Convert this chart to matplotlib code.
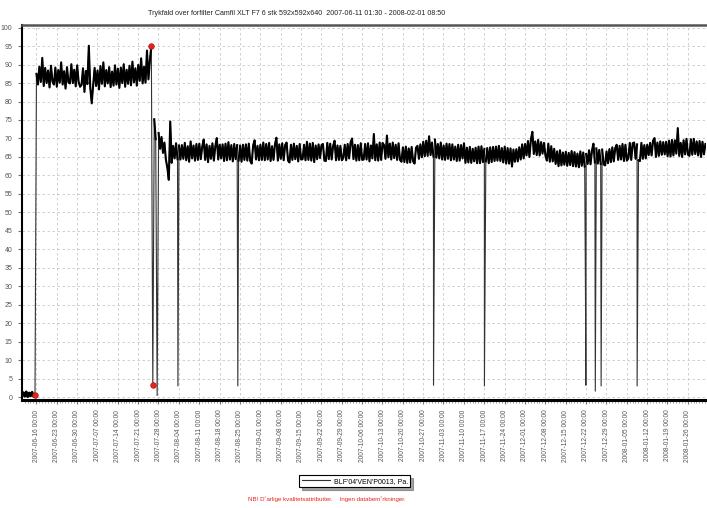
import matplotlib
matplotlib.use("Agg")
import matplotlib.pyplot as plt
import matplotlib.dates as mdates
import pandas as pd

plt.rcParams["font.family"] = ["Liberation Sans", "DejaVu Sans"]

# ---- data (12-hourly readings, Pa) ----
start = "2007-06-11 01:30"
end = "2008-02-01 08:50"

off_vals = [0.3, 1.2, 0.2, 1.4, 0.1, 1.1, 0.3, 1.3, 0.2, 0.5]

high_vals = [
    87.5, 84.6, 89.4, 85.3, 91.8, 84.2, 89.1, 85.0, 88.4, 83.8,
    89.7, 85.4, 84.6, 89.2, 84.0, 88.5, 85.1, 90.6, 84.6, 88.2,
    83.5, 89.3, 85.2, 84.9, 90.1, 85.0, 88.6, 84.1, 89.8, 85.3,
    84.0, 84.5, 89.0, 82.6, 88.3, 84.7, 95.1, 83.8, 79.5, 84.5,
    89.1, 84.2, 88.4, 83.3, 89.6, 84.8, 90.6, 84.1, 88.5, 84.9,
    89.3, 83.9, 88.1, 84.3, 89.8, 84.6, 88.9, 83.7, 89.2, 85.0,
    90.1, 84.0, 88.6, 84.8, 89.7, 84.4, 90.8, 85.2, 89.0, 84.3,
    89.9, 85.6, 91.7, 84.9, 89.4, 85.1, 93.8, 86.0, 91.2, 95.0,
]

trans_vals = [3.3, 75.2, 69.8, 0.4, 71.5]

low_vals = [
    67.2, 70.4, 66.1, 68.9, 64.3, 62.1, 58.8, 74.6, 63.4, 68.0, 64.6, 68.7, 64.4, 68.1,
    64.3, 68.2, 64.5, 68.8, 64.1, 67.9, 63.7, 69.2, 64.6, 68.1, 64.0, 68.5, 64.2, 68.6,
    64.4, 67.8, 69.7, 64.2, 68.4, 63.6, 68.0, 64.5, 68.7, 64.0, 67.9, 70.1, 64.3, 68.3,
    64.6, 68.4, 63.9, 68.6, 64.1, 69.0, 64.3, 68.2, 63.8, 68.5, 64.4, 68.2, 64.0, 68.1,
    63.7, 68.3, 64.2, 68.4, 64.0, 68.6, 63.9, 63.2, 68.1, 69.5, 64.3, 68.0, 64.1, 68.3,
    64.2, 68.9, 64.1, 68.5, 64.3, 68.8, 63.9, 67.9, 64.2, 68.4, 70.2, 64.0, 68.4, 64.5,
    68.7, 64.1, 68.2, 68.9, 64.0, 63.5, 68.3, 64.2, 68.6, 64.4, 68.0, 63.8, 68.5, 64.3,
    64.4, 68.3, 64.1, 69.1, 64.2, 68.6, 64.0, 68.8, 63.6, 68.1, 64.4, 68.4, 64.7, 68.2,
    68.5, 64.0, 63.9, 68.8, 64.4, 68.6, 64.3, 68.0, 69.4, 64.1, 68.1, 64.2, 68.0, 64.1,
    64.7, 68.3, 64.1, 68.5, 64.6, 68.9, 70.0, 64.4, 68.3, 64.0, 68.2, 64.1, 68.7, 64.2,
    64.3, 68.5, 64.3, 68.7, 63.8, 68.1, 64.6, 71.2, 64.1, 68.4, 64.0, 68.9, 64.2, 68.8,
    68.2, 64.5, 70.8, 64.9, 68.6, 64.3, 68.9, 64.7, 68.3, 64.2, 68.7, 64.2, 63.7, 67.6,
    63.6, 67.8, 63.4, 67.3, 63.5, 67.7, 63.8, 63.2, 67.5, 68.0, 64.5, 68.4, 64.9, 69.1,
    65.2, 69.4, 65.3, 70.6, 65.5, 68.9, 65.1, 69.7, 64.8, 68.5, 64.6, 68.9, 64.3, 68.1,
    64.2, 68.6, 64.5, 68.5, 64.1, 68.4, 64.3, 67.8, 63.9, 68.3, 64.0, 68.2, 64.6, 68.7,
    63.4, 67.5, 63.5, 67.7, 63.4, 67.2, 63.8, 67.5, 63.3, 67.8, 63.3, 67.9, 63.6, 67.2,
    63.8, 67.4, 63.3, 67.6, 63.6, 67.7, 63.9, 67.8, 64.0, 68.0, 63.9, 67.4, 63.5, 67.8,
    63.2, 67.4, 63.2, 67.3, 62.4, 67.0, 63.7, 67.1, 63.8, 67.6, 64.3, 68.4, 64.6, 68.5,
    65.4, 69.3, 65.0, 69.7, 71.8, 65.8, 69.2, 65.5, 69.6, 65.4, 69.0, 65.9, 68.8, 65.4,
    64.0, 68.6, 63.7, 67.9, 63.8, 67.2, 63.1, 66.5, 62.5, 66.8, 62.7, 66.2, 62.9, 66.4,
    62.6, 66.1, 62.8, 66.6, 62.5, 66.3, 62.4, 65.9, 62.2, 66.5, 62.6, 66.2, 62.4, 65.8,
    63.1, 66.8, 63.0, 66.7, 68.6, 63.5, 67.3, 63.2, 66.9, 63.1, 67.0, 63.0, 62.7, 66.5,
    63.3, 67.1, 63.6, 67.6, 63.8, 67.4, 68.3, 64.2, 68.0, 64.3, 68.5, 63.9, 68.3, 64.0,
    64.6, 68.8, 64.2, 68.7, 68.9, 64.5, 68.4, 64.1, 63.9, 68.8, 64.5, 68.2, 64.6, 68.3,
    65.5, 68.8, 65.4, 69.4, 70.1, 65.0, 68.9, 65.3, 69.2, 65.6, 69.0, 65.7, 69.1, 65.2,
    69.4, 65.1, 69.6, 65.4, 69.5, 65.9, 72.8, 65.3, 68.8, 65.0, 69.5, 65.7, 69.9, 65.6,
    65.3, 69.8, 65.6, 69.9, 65.8, 69.2, 65.4, 69.3, 65.0, 69.1, 65.7, 68.5,
]

# short sensor dropouts between the regular readings
drop_times = ["2007-08-03 17:00", "2007-08-24 07:00", "2007-10-30 14:00",
              "2007-11-17 02:00", "2007-12-21 20:00", "2007-12-21 23:00",
              "2007-12-25 05:00", "2007-12-27 05:00", "2008-01-08 14:00"]
drop_vals = [3.0, 3.0, 3.2, 3.0, 27.0, 3.2, 1.6, 3.0, 3.0]

# flagged readings (red markers)
flag_times = ["2007-06-15 13:30", "2007-07-25 13:30", "2007-07-26 01:30"]
flag_vals = [0.5, 95.0, 3.3]

title = ("Trykfald over forfilter Camfil XLT F7 6 stk 592x592x640  "
         "2007-06-11 01:30 - 2008-02-01 08:50")
series_name = "BLF'04'VEN'P0013, Pa."
note = "NB! D\u02daarlige kvalitetsattributter.    Ingen databem\u02darkninger."

# ---- build series ----
vals = off_vals + high_vals + trans_vals + low_vals
idx = pd.date_range(start, periods=len(vals), freq="12h")
s = pd.Series(vals, index=idx)
s = pd.concat([s, pd.Series(drop_vals, index=pd.to_datetime(drop_times))]).sort_index()

fig = plt.figure(figsize=(7.07, 5.08), dpi=100)
ax = fig.add_axes([0.031, 0.2126, 0.968, 0.7388])

# thin trace for everything (dropouts show as thin verticals), heavier for the band
ax.plot(s.index, s.values, color="#333333", lw=0.8, label=series_name)
ax.plot(s.index, s.where(s > 40).values, color="black", lw=1.5)
ax.plot(s.index, s.where(s < 2).values, color="black", lw=2.0)
ax.plot(pd.to_datetime(flag_times), flag_vals, ls="none", marker="o", ms=4,
        color="#e8231e", mec="#b01010", mew=0.5, zorder=5)

ax.set_xlim(pd.Timestamp(start), pd.Timestamp(end))
ax.set_ylim(-0.8, 100.8)

ax.yaxis.set_major_locator(plt.MultipleLocator(5))
ax.xaxis.set_major_locator(mdates.WeekdayLocator(byweekday=mdates.SA))
ax.xaxis.set_minor_locator(mdates.DayLocator())
ax.xaxis.set_major_formatter(mdates.DateFormatter("%Y-%m-%d %H:%M"))

ax.grid(True, which="major", color="#c8c8c8", ls=(0, (3, 3)), lw=0.6)
ax.tick_params(axis="x", which="major", labelsize=4.8, labelcolor="#555555",
               labelrotation=90, length=3, color="#777777", pad=4)
ax.tick_params(axis="x", which="minor", length=2, color="#999999")
ax.tick_params(axis="y", labelsize=5, labelcolor="#555555", length=3,
               color="#777777", pad=4)
for lbl in ax.get_xticklabels():
    lbl.set_verticalalignment("top")

ax.spines["left"].set_linewidth(1.5)
ax.spines["bottom"].set_linewidth(2.2)
ax.spines["top"].set_color("#555555")
ax.spines["top"].set_linewidth(1.8)
ax.spines["right"].set_visible(False)

fig.text(0.42, 0.974, title, ha="center", va="center", fontsize=5.1, color="#222222")

leg = fig.legend(loc="center", bbox_to_anchor=(0.502, 0.053), fontsize=5.0,
                 frameon=True, fancybox=False, shadow=True, handlelength=4,
                 borderpad=0.35, handletextpad=0.6, edgecolor="black")
leg.get_frame().set_linewidth(0.8)

fig.text(0.462, 0.018, note, ha="center", va="center", fontsize=4.4, color="#e8231e")

fig.savefig("out.png", dpi=100)
